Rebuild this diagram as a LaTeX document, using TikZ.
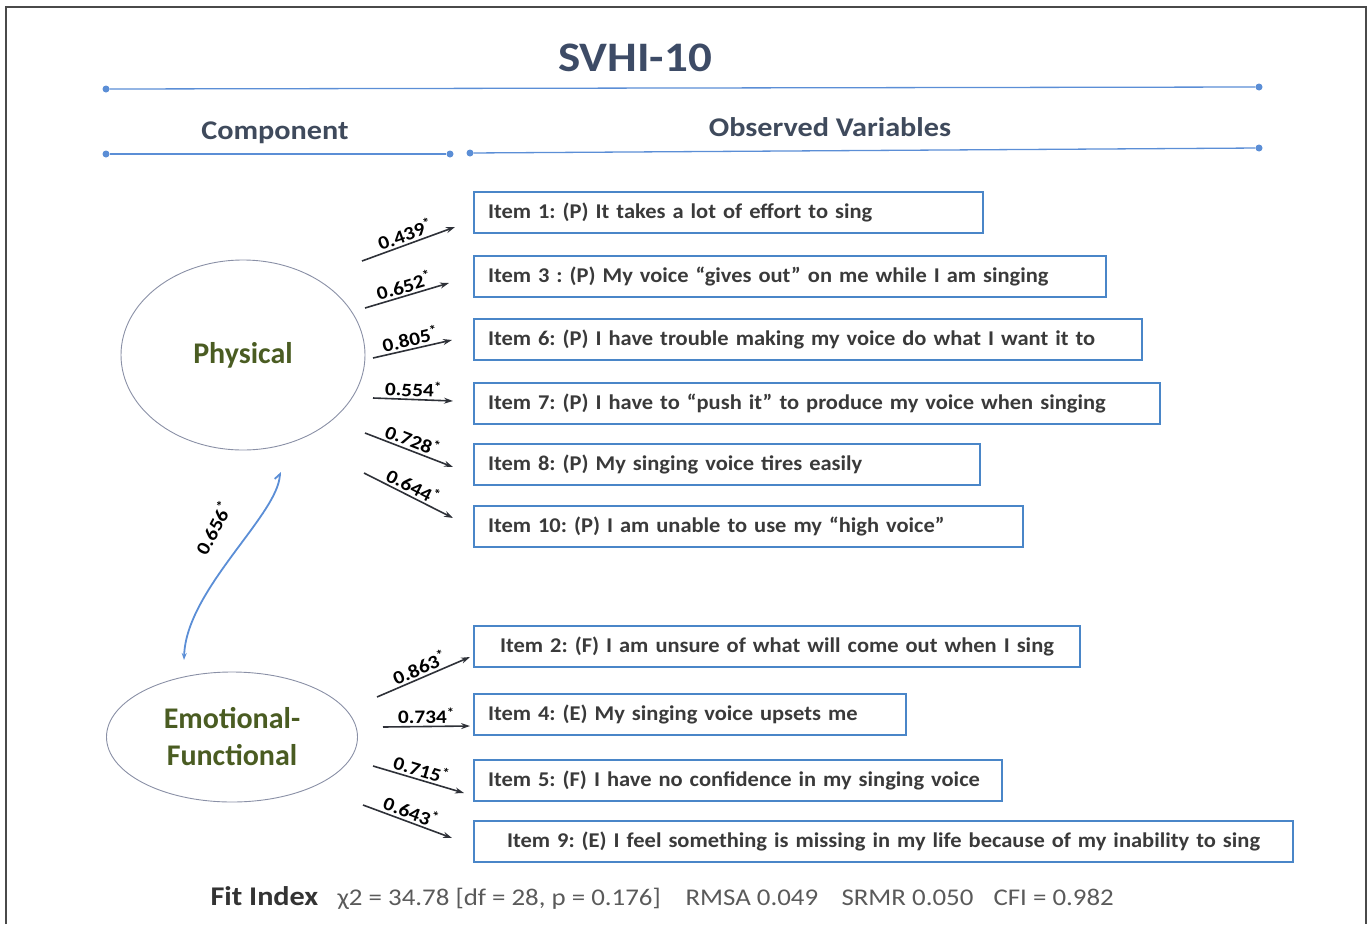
\documentclass[tikz,border=0pt]{standalone}
\usepackage{fontspec}
\setmainfont{Carlito}
\newfontfamily\wideA{Carlito}[FakeStretch=1.07,Ligatures=TeX]
\newfontfamily\wideB{Carlito}[FakeStretch=1.12,Ligatures=TeX]
\usetikzlibrary{arrows.meta,shapes.geometric}
\definecolor{lineblue}{HTML}{5B8ED6}
\definecolor{boxblue}{HTML}{4A86C8}
\definecolor{titlecol}{HTML}{3D4B66}
\definecolor{headcol}{HTML}{3F4A5C}
\definecolor{greencol}{HTML}{4A5C22}
\definecolor{itemtext}{HTML}{3A3A3A}
\definecolor{ellcol}{HTML}{8A90A6}
\definecolor{arrcol}{HTML}{2E3138}
\definecolor{fitgrey}{HTML}{5A5A5A}
\definecolor{framecol}{HTML}{4A4A4A}
\begin{document}
\frenchspacing
\begin{tikzpicture}[x=1pt,y=-1pt,
  itembox/.style={draw=boxblue, line width=2pt, anchor=west, minimum height=41pt,
    inner xsep=14pt, align=left, font=\wideA\fontsize{21}{24}\selectfont\bfseries, text=itemtext},
  latent/.style={ellipse, draw=ellcol, line width=0.9pt, inner sep=0pt, align=center,
    font=\fontsize{30}{37}\selectfont\bfseries, text=greencol},
  hdot/.style={circle, fill=lineblue, inner sep=0pt, minimum size=7pt},
  hline/.style={draw=lineblue, line width=1.3pt},
  loading/.style={draw=arrcol, line width=1.6pt, -{Stealth[length=9pt,width=6pt]}},
  lbl/.style={font=\wideB\fontsize{19}{22}\selectfont\bfseries, text=black, inner sep=2pt},
  heading/.style={font=\wideB\fontsize{27}{32}\selectfont\bfseries, text=headcol},
  fitstat/.style={anchor=base west, font=\wideB\fontsize{24}{28}\selectfont, text=fitgrey}
]
\useasboundingbox (0,0) rectangle (1370,924);
% frame
\draw[framecol, line width=1.5pt] (6,924) -- (6,7) -- (1366,7) -- (1366,924);

% title and headings
\node[font=\wideB\fontsize{42}{48}\selectfont\bfseries, text=titlecol] (title) at (635,58) {SVHI-10};
\node[hdot] (l1a) at (106,89) {};
\node[hdot] (l1b) at (1259,87) {};
\draw[hline] (l1a) -- (l1b);
\node[heading] (comp) at (275,133) {Component};
\node[heading] (obs) at (830,127) {Observed Variables};
\node[hdot] (l2a) at (106,154) {};
\node[hdot] (l2b) at (450,154) {};
\draw[hline] (l2a) -- (l2b);
\node[hdot] (l3a) at (470,153) {};
\node[hdot] (l3b) at (1259,148) {};
\draw[hline] (l3a) -- (l3b);

% latent variables
\node[latent, minimum width=244pt, minimum height=190pt] (phys) at (243,355) {Physical};
\node[latent, minimum width=251pt, minimum height=130pt] (emo) at (232,737) {Emotional-\\Functional};

% observed items
\node[itembox, text width=481pt] (i1) at (473,212.5) {Item 1: (P) It takes a lot of effort to sing};
\node[itembox, text width=604pt] (i3) at (473,276.5) {Item 3 : (P) My voice “gives out” on me while I am singing};
\node[itembox, text width=640pt] (i6) at (473,339) {Item 6: (P) I have trouble making my voice do what I want it to};
\node[itembox, text width=658pt] (i7) at (473,403) {Item 7: (P) I have to “push it” to produce my voice when singing};
\node[itembox, text width=478pt] (i8) at (473,464.5) {Item 8: (P) My singing voice tires easily};
\node[itembox, text width=521pt] (i10) at (473,526.5) {Item 10: (P) I am unable to use my “high voice”};
\node[itembox, text width=578pt, align=center] (i2) at (473,646.5) {Item 2: (F) I am unsure of what will come out when I sing};
\node[itembox, text width=404pt] (i4) at (473,714) {Item 4: (E) My singing voice upsets me};
\node[itembox, text width=500pt] (i5) at (473,780) {Item 5: (F) I have no confidence in my singing voice};
\node[itembox, text width=791pt, align=center] (i9) at (473,841) {Item 9: (E) I feel something is missing in my life because of my inability to sing};

% loading arrows (start/end points)
\coordinate (p1s) at (362,261); \coordinate (p1e) at (455,227);
\coordinate (p3s) at (365,308); \coordinate (p3e) at (449,283);
\coordinate (p6s) at (373,358); \coordinate (p6e) at (452,340);
\coordinate (p7s) at (373,398); \coordinate (p7e) at (453,401);
\coordinate (p8s) at (365,433); \coordinate (p8e) at (453,467);
\coordinate (p10s) at (364,473); \coordinate (p10e) at (453,518);
\coordinate (e2s) at (377,697); \coordinate (e2e) at (470,657);
\coordinate (e4s) at (383,727); \coordinate (e4e) at (470,726);
\coordinate (e5s) at (373,766); \coordinate (e5e) at (464,793);
\coordinate (e9s) at (363,805); \coordinate (e9e) at (452,838);

\draw[loading] (p1s) -- node[lbl, sloped, above] {0.439\textsuperscript{*}} (p1e);
\draw[loading] (p3s) -- node[lbl, sloped, above] {0.652\textsuperscript{*}} (p3e);
\draw[loading] (p6s) -- node[lbl, sloped, above] {0.805\textsuperscript{*}} (p6e);
\draw[loading] (p7s) -- node[lbl, sloped, above] {0.554\textsuperscript{*}} (p7e);
\draw[loading] (p8s) -- node[lbl, sloped, above] {0.728\textsuperscript{*}} (p8e);
\draw[loading] (p10s) -- node[lbl, sloped, above] {0.644\textsuperscript{*}} (p10e);
\draw[loading] (e2s) -- node[lbl, sloped, above] {0.863\textsuperscript{*}} (e2e);
\draw[loading] (e4s) -- node[lbl, sloped, above] {0.734\textsuperscript{*}} (e4e);
\draw[loading] (e5s) -- node[lbl, sloped, above] {0.715\textsuperscript{*}} (e5e);
\draw[loading] (e9s) -- node[lbl, sloped, above] {0.643\textsuperscript{*}} (e9e);

% correlation
\coordinate (ctop) at (280,472);
\coordinate (cbot) at (184,660);
\draw[draw=lineblue, line width=1.8pt, {Straight Barb[left,length=5pt]}-{Stealth[length=7pt,width=5pt]}]
  (ctop) .. controls (278,515) and (186,590) .. (cbot);
\node[lbl, rotate=62] (corrlbl) at (213,528) {0.656\textsuperscript{*}};

% fit index
\node[anchor=base west, font=\wideB\fontsize{27}{30}\selectfont\bfseries, text=black!80] (fit) at (207,905) {Fit Index};
\node[fitstat] (chi) at (334,905) {χ2 = 34.78 [df = 28, p = 0.176]};
\node[fitstat] (rmsa) at (682,905) {RMSA 0.049};
\node[fitstat] (srmr) at (838,905) {SRMR 0.050};
\node[fitstat] (cfi) at (990,905) {CFI = 0.982};
\end{tikzpicture}
\end{document}
